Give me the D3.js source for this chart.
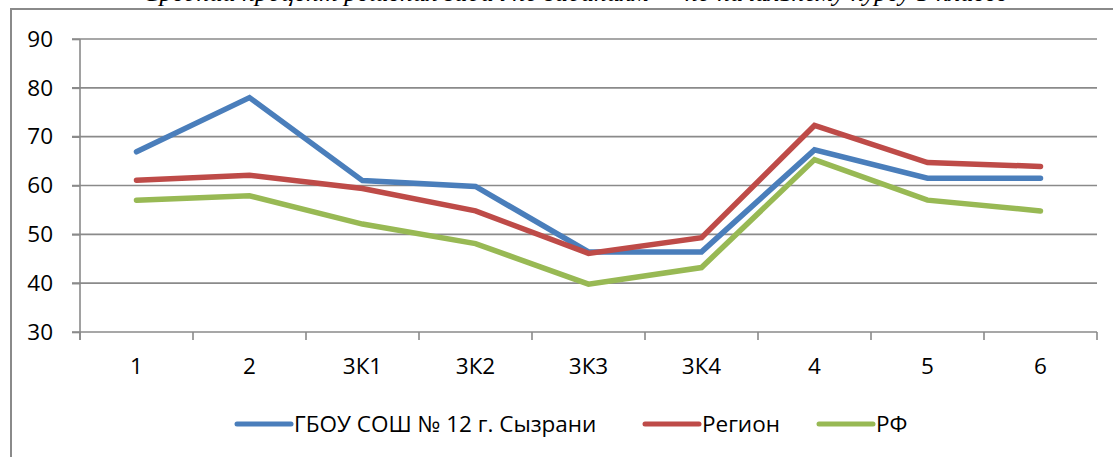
<!DOCTYPE html>
<html>
<head>
<meta charset="utf-8">
<script src="https://cdn.jsdelivr.net/npm/d3@7"></script>
<style>
  body { margin: 0; background: #fff; }
  svg text { font-family: "Open Sans", "Liberation Sans", Arial, sans-serif; fill: #000; }
</style>
</head>
<body>
<svg id="chart" width="1113" height="457"></svg>
<script>
// data
const categories = ['1', '2', '3К1', '3К2', '3К3', '3К4', '4', '5', '6'];
const schoolVals = [66.9, 78.0, 61.0, 59.8, 46.4, 46.4, 67.3, 61.5, 61.5];
const regionVals = [61.1, 62.1, 59.4, 54.8, 46.1, 49.3, 72.3, 64.7, 63.9];
const rfVals     = [57.0, 57.9, 52.1, 48.1, 39.8, 43.2, 65.3, 57.0, 54.8];
const seriesNames = ['ГБОУ СОШ № 12 г. Сызрани', 'Регион', 'РФ'];
const yTicks = [30, 40, 50, 60, 70, 80, 90];

const colors = ['#4a7ebb', '#be4b48', '#98b954'];
const series = [schoolVals, regionVals, rfVals].map((v, i) => ({
  name: seriesNames[i], color: colors[i],
  values: v.map((d, j) => ({ cat: categories[j], val: d }))
}));

const svg = d3.select('#chart');
const gridColor = '#8a8a8a';
const fontSize = '22.5px';

// outer frame (runs off the right and bottom of the window)
svg.append('rect')
  .attr('x', 11).attr('y', 9)
  .attr('width', 1200).attr('height', 500)
  .attr('fill', 'none')
  .attr('stroke', gridColor)
  .attr('stroke-width', 2);

// cut-off title above the frame
svg.append('text')
  .attr('x', 575).attr('y', 1)
  .attr('text-anchor', 'middle')
  .style('font-family', '"Liberation Serif", serif')
  .style('font-style', 'italic')
  .style('font-size', '26px')
  .text('Средний процент решения задач по заданиям — по начальному курсу 5 классе');

const x = d3.scaleBand().domain(categories).range([80, 1097]);
const y = d3.scaleLinear().domain([30, 90]).range([332, 39]);

// grid
svg.append('g')
  .selectAll('line')
  .data(yTicks)
  .join('line')
  .attr('x1', 72).attr('x2', 1097)
  .attr('y1', d => y(d)).attr('y2', d => y(d))
  .attr('stroke', gridColor)
  .attr('stroke-width', 1.6);

// y axis
const yAxis = svg.append('g')
  .attr('transform', 'translate(80,0)')
  .call(d3.axisLeft(y).tickValues(yTicks).tickSize(8).tickPadding(19).tickSizeOuter(0));
yAxis.select('.domain')
  .attr('d', 'M0,' + y(90) + 'V340')
  .attr('stroke', gridColor).attr('stroke-width', 1.6);
yAxis.selectAll('.tick line').attr('stroke', gridColor).attr('stroke-width', 1.6);
yAxis.selectAll('.tick text')
  .style('font-size', fontSize)
  .style('font-family', '"Open Sans", "Liberation Sans", Arial, sans-serif');

// x axis: ticks at band boundaries
const xAxis = svg.append('g').attr('transform', 'translate(0,' + y(30) + ')');
const bounds = categories.map(c => x(c)).concat([x.range()[1]]);
xAxis.selectAll('line')
  .data(bounds)
  .join('line')
  .attr('x1', d => d).attr('x2', d => d)
  .attr('y1', 0).attr('y2', 8)
  .attr('stroke', gridColor).attr('stroke-width', 1.6);
xAxis.selectAll('text')
  .data(categories)
  .join('text')
  .attr('x', d => x(d) + x.bandwidth() / 2)
  .attr('y', 42)
  .attr('text-anchor', 'middle')
  .style('font-size', fontSize)
  .text(d => d);

// lines
const line = d3.line()
  .x(d => x(d.cat) + x.bandwidth() / 2)
  .y(d => y(d.val));

svg.append('g')
  .selectAll('path')
  .data(series)
  .join('path')
  .attr('d', d => line(d.values))
  .attr('fill', 'none')
  .attr('stroke', d => d.color)
  .attr('stroke-width', 5.5)
  .attr('stroke-linejoin', 'miter')
  .attr('stroke-linecap', 'round');

// legend
const legendX = [237, 645, 819];
const legend = svg.append('g')
  .selectAll('g')
  .data(series)
  .join('g')
  .attr('transform', (d, i) => 'translate(' + legendX[i] + ',424)');
legend.append('line')
  .attr('x1', 0).attr('x2', 54)
  .attr('stroke', d => d.color)
  .attr('stroke-width', 5)
  .attr('stroke-linecap', 'round');
legend.append('text')
  .attr('x', 57).attr('y', 8)
  .style('font-size', fontSize)
  .text(d => d.name);
</script>
</body>
</html>
